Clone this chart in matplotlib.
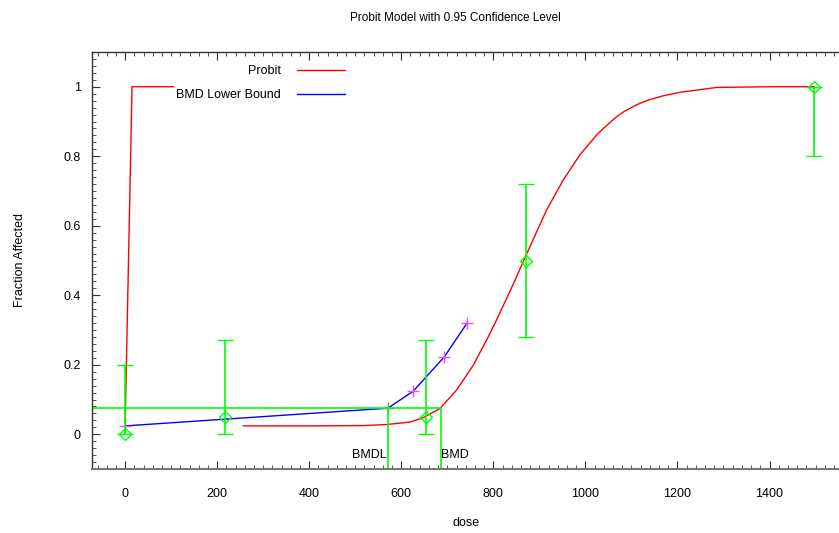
import matplotlib
matplotlib.use("Agg")
import matplotlib.pyplot as plt
from matplotlib.ticker import MultipleLocator

plt.rcParams['font.family'] = ['Liberation Sans', 'DejaVu Sans']

# observed data with confidence limits
dose = [0, 218, 654, 872, 1497]
frac = [0.0, 0.05, 0.05, 0.5, 1.0]
lower = [0.0, 0.0, 0.0, 0.28, 0.8]
upper = [0.2, 0.27, 0.27, 0.72, 1.0]

# fitted probit curve
probit_x = [257, 400, 520, 568, 619, 648, 684, 720, 757, 790, 807, 844, 873,
            916, 952, 988, 1025, 1039, 1068, 1083, 1111, 1133, 1169, 1206,
            1285, 1400, 1497]
probit_y = [0.024, 0.024, 0.025, 0.028, 0.035, 0.048, 0.074, 0.127, 0.20,
            0.283, 0.329, 0.434, 0.521, 0.646, 0.732, 0.804, 0.862, 0.880,
            0.914, 0.928, 0.948, 0.960, 0.974, 0.984, 0.998, 1.0, 1.0]
# odd red segment near dose 0
spike_x = [0, 15, 105]
spike_y = [0.024, 1.0, 1.0]

# BMD lower bound line
bmdl_x = [0, 571, 626, 693, 743]
bmdl_y = [0.024, 0.075, 0.124, 0.222, 0.32]

bmr = 0.075
bmd = 686
bmdl = 571
xmin, xmax = -72, 1551

fig = plt.figure(figsize=(8.39, 5.33), dpi=100)
ax = fig.add_axes([92 / 839, 64 / 533, 747 / 839, 417 / 533])

ax.plot(probit_x, probit_y, color='red', lw=1, label='Probit')
ax.plot(spike_x, spike_y, color='red', lw=1)
ax.plot(bmdl_x, bmdl_y, color='blue', lw=1, label='BMD Lower Bound')
ax.plot(bmdl_x[:1] + bmdl_x[2:], bmdl_y[:1] + bmdl_y[2:], ls='none',
        marker='+', ms=8, mew=1, color='#ff44ff')
ax.plot(bmdl_x[1:2], bmdl_y[1:2], ls='none', marker='+', ms=8, mew=1,
        color='#888888')

yerr = [[f - lo for f, lo in zip(frac, lower)], [up - f for f, up in zip(frac, upper)]]
ax.errorbar(dose, frac, yerr=yerr, fmt='D', ms=6, mfc='none', mec='#00ff00',
            mew=1, ecolor='#00ff00', elinewidth=1.2, capsize=6, capthick=1.2)

ax.hlines(bmr, xmin, bmd, color='#00ff00', lw=1.2)
ax.vlines([bmdl, bmd], -0.1, bmr, color='#00ff00', lw=1.2)
ax.text(bmdl - 3, -0.068, 'BMDL', ha='right', va='baseline', fontsize=9)
ax.text(bmd + 1, -0.068, 'BMD', ha='left', va='baseline', fontsize=9)

ax.set_xlim(xmin, xmax)
ax.set_ylim(-0.1, 1.1)
ax.xaxis.set_major_locator(MultipleLocator(200))
ax.xaxis.set_minor_locator(MultipleLocator(20))
ax.yaxis.set_minor_locator(MultipleLocator(0.02))
ax.set_yticks([0, 0.2, 0.4, 0.6, 0.8, 1.0])
ax.set_yticklabels(['0', '0.2', '0.4', '0.6', '0.8', '1'])
ax.tick_params(which='both', direction='in', top=True, right=False,
               labelsize=9, color='#333333')
ax.tick_params(which='major', length=6)
ax.tick_params(which='minor', length=3)
ax.tick_params(axis='x', pad=14)
ax.tick_params(axis='y', pad=8)
for s in ax.spines.values():
    s.set_color('#333333')
    s.set_linewidth(1)
ax.spines['bottom'].set_color('#777777')
ax.spines['bottom'].set_linewidth(1.5)
ax.spines['right'].set_visible(False)

ax.legend(loc='upper left', bbox_to_anchor=(0.098, 0.995), frameon=False,
          markerfirst=False, fontsize=9, handlelength=3.8,
          handletextpad=1.3, labelspacing=0.95)

fig.text(455 / 839, 1 - 18 / 533, 'Probit Model with 0.95 Confidence Level',
         ha='center', va='center', fontsize=8.5,
         family=['Liberation Sans Narrow', 'Liberation Sans'])
fig.text(466 / 839, 1 - 523 / 533, 'dose', ha='center', va='center', fontsize=9)
fig.text(20 / 839, 1 - 260 / 533, 'Fraction Affected', ha='center',
         va='center', rotation=90, fontsize=9)

fig.savefig('out.png', dpi=100)
